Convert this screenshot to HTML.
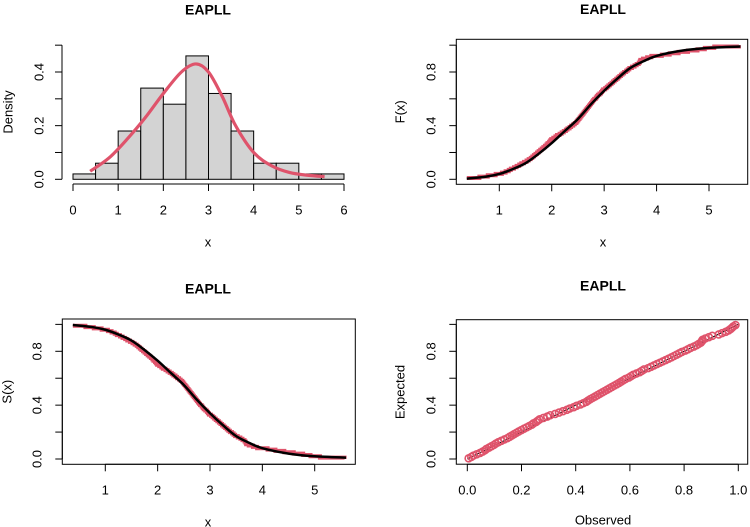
<!DOCTYPE html>
<html><head><meta charset="utf-8"><style>
body{margin:0;background:#fff}
svg{display:block;font-family:"Liberation Sans",sans-serif}
</style></head><body>
<svg id="c" width="750" height="527" viewBox="0 0 750 527"></svg>
<script>
const binEdges=[0,0.5,1,1.5,2,2.5,3,3.5,4,4.5,5,5.5,6];
const binDensity=[0.02,0.06,0.18,0.34,0.28,0.46,0.32,0.18,0.06,0.06,0.02,0.02];
const densX=[0.38,0.8,1.2,1.6,2.0,2.4,2.72,3.0,3.3,3.6,4.0,4.4,4.8,5.2,5.57];
const densY=[0.03,0.08,0.15,0.23,0.32,0.40,0.43,0.40,0.31,0.20,0.10,0.05,0.025,0.015,0.01];
const cdfX=[0.38,0.75,1.0,1.25,1.5,1.75,2.0,2.25,2.5,2.75,3.0,3.25,3.5,3.75,4.0,4.5,5.0,5.6];
const cdfY=[0.005,0.02,0.04,0.075,0.12,0.19,0.27,0.36,0.45,0.56,0.66,0.75,0.83,0.88,0.92,0.96,0.98,0.99];
const sample=[0.38,0.62,0.78,0.93,1.05,1.12,1.18,1.22,1.28,1.33,1.38,1.42,1.47,
1.52,1.56,1.6,1.63,1.66,1.69,1.72,1.75,1.78,1.81,1.84,1.87,1.9,1.92,1.95,1.97,1.99,
2.03,2.07,2.1,2.15,2.19,2.23,2.27,2.3,2.34,2.37,2.41,2.44,2.47,2.49,
2.51,2.53,2.55,2.57,2.59,2.61,2.63,2.65,2.67,2.69,2.71,2.73,2.75,2.77,2.79,2.81,2.84,2.86,2.88,2.91,2.94,2.96,2.98,
3.02,3.05,3.08,3.11,3.14,3.17,3.2,3.23,3.26,3.29,3.32,3.35,3.38,3.42,3.45,3.48,
3.53,3.58,3.62,3.66,3.68,3.69,3.74,3.82,3.9,4.1,4.25,4.42,4.6,4.78,4.92,5.1,5.57];
const histXTicks=[0,1,2,3,4,5,6];
const curveXTicks=[1,2,3,4,5];
const probTicks=[0,0.2,0.4,0.6,0.8,1.0];
const probLabels=["0.0","","0.4","","0.8",""];
const densTicks=[0,0.1,0.2,0.3,0.4,0.5];
const densLabels=["0.0","","0.2","","0.4",""];
const ppXTicks=[0,0.2,0.4,0.6,0.8,1.0];
const ppXLabels=["0.0","0.2","0.4","0.6","0.8","1.0"];

const NS="http://www.w3.org/2000/svg";
const svg=document.getElementById('c');
const RED="#DF536B";
function mk(t,a,p){const e=document.createElementNS(NS,t);for(const k in a)e.setAttribute(k,a[k]);(p||svg).appendChild(e);return e;}
function lin(d0,d1,r0,r1){return v=>r0+(v-d0)/(d1-d0)*(r1-r0);}
function smooth(pts){let d="M"+pts[0][0]+","+pts[0][1];for(let i=0;i<pts.length-1;i++){const p0=pts[i-1]||pts[i],p1=pts[i],p2=pts[i+1],p3=pts[i+2]||p2;
d+=" C"+(p1[0]+(p2[0]-p0[0])/6)+","+(p1[1]+(p2[1]-p0[1])/6)+" "+(p2[0]-(p3[0]-p1[0])/6)+","+(p2[1]-(p3[1]-p1[1])/6)+" "+p2[0]+","+p2[1];}return d;}
function interpCdf(x){if(x<=cdfX[0])return cdfY[0];for(let i=0;i<cdfX.length-1;i++){if(x<=cdfX[i+1]){const t=(x-cdfX[i])/(cdfX[i+1]-cdfX[i]);return cdfY[i]+t*(cdfY[i+1]-cdfY[i]);}}return cdfY[cdfY.length-1];}
function txt(x,y,s,opt){const a={x:x,y:y,'text-anchor':'middle','dominant-baseline':'middle','font-size':opt.fs||13,fill:'#000'};
if(opt.rot)a.transform=`rotate(-90 ${x} ${y})`;if(opt.bold)a['font-weight']='bold';const t=mk('text',a,opt.g);t.textContent=s;return t;}
function xAxis(g,xs,ticks,labels,y,from,to,ly){mk('line',{x1:xs(from),x2:xs(to),y1:y,y2:y,stroke:'#000'},g);
ticks.forEach((v,i)=>{mk('line',{x1:xs(v),x2:xs(v),y1:y,y2:y+7,stroke:'#000'},g);if(labels[i])txt(xs(v),ly,labels[i],{g:g});});}
function yAxis(g,ys,ticks,labels,x,from,to,lx){mk('line',{x1:x,x2:x,y1:ys(from),y2:ys(to),stroke:'#000'},g);
ticks.forEach((v,i)=>{mk('line',{x1:x,x2:x-7,y1:ys(v),y2:ys(v),stroke:'#000'},g);if(labels[i])txt(lx,ys(v),labels[i],{g:g,rot:1});});}
const n=sample.length;

// Panel 1 histogram
{const g=mk('g',{});
const xs=lin(0,6,73,344),ys=lin(0,0.4,179.3,72);
binDensity.forEach((d,i)=>{const r=mk('rect',{x:xs(binEdges[i]),y:ys(d),width:xs(binEdges[i+1])-xs(binEdges[i]),height:ys(0)-ys(d),fill:'#d3d3d3',stroke:'#000','stroke-width':1},g);
});
const p=mk('path',{d:smooth(densX.map((x,i)=>[xs(x),ys(densY[i])])),fill:'none',stroke:RED,'stroke-width':3.2},g);

xAxis(g,xs,histXTicks,histXTicks.map(String),184,0,6,211);
yAxis(g,ys,densTicks,densLabels,62,0,0.5,40);
txt(208,11,'EAPLL',{g:g,bold:1,fs:14});txt(208,243,'x',{g:g});txt(9,112,'Density',{g:g,rot:1});}

function cdfPanel(name,P,surv,ylab){
const g=mk('g',{});
const xs=lin(1,5,P.x1,P.x5),ys=lin(0,0.8,P.y0,P.y8);
const f=v=>surv?1-v:v;
let d="M"+xs(sample[0])+","+ys(f(1/n));
for(let i=1;i<n;i++){d+=" H"+xs(sample[i])+" V"+ys(f((i+1)/n));}
const e=mk('path',{d:d,fill:'none',stroke:RED,'stroke-width':4},g);

const c=mk('path',{d:smooth(cdfX.map((x,i)=>[xs(x),ys(f(cdfY[i]))])),fill:'none',stroke:'#000','stroke-width':2.5},g);

mk('rect',{x:P.L,y:P.T,width:P.R-P.L,height:P.B-P.T,fill:'none',stroke:'#000'},g);
xAxis(g,xs,curveXTicks,curveXTicks.map(String),P.B,1,5,P.B+27);
yAxis(g,ys,probTicks,probLabels,P.L,0,1,P.L-24);
const cx=(P.L+P.R)/2+5;
txt(P.tx,P.T-29,'EAPLL',{g:g,bold:1,fs:14});txt(P.tx,P.B+59,'x',{g:g});txt(P.ylx,(P.T+P.B)/2,ylab,{g:g,rot:1});}
cdfPanel('cdf-panel',{L:456.3,R:747.7,T:39.3,B:184.3,x1:499.3,x5:709,y0:179.3,y8:72,tx:603,ylx:401},false,'F(x)');
cdfPanel('survival-panel',{L:62.3,R:355.3,T:319,B:464.3,x1:105.3,x5:314.7,y0:459,y8:351.3,tx:208,ylx:8},true,'S(x)');

// PP panel
{const g=mk('g',{});
const xs=lin(0,1,467.3,738.3),ys=lin(0,0.8,459,351.3);
mk('line',{x1:xs(0),y1:ys(0),x2:xs(1),y2:ys(1),stroke:'#000','stroke-width':1},g);
sample.forEach((x,i)=>{const c=mk('circle',{cx:xs(interpCdf(x)),cy:ys((i+0.5)/n),r:3.5,fill:'none',stroke:RED,'stroke-width':1.6},g);
});
mk('rect',{x:456.3,y:319.7,width:291.4,height:144.5,fill:'none',stroke:'#000'},g);
xAxis(g,xs,ppXTicks,ppXLabels,464.2,0,1,491);
yAxis(g,ys,probTicks,probLabels,456.3,0,1,432);
txt(603,287,'EAPLL',{g:g,bold:1,fs:14});txt(603,521,'Observed',{g:g});txt(401,392,'Expected',{g:g,rot:1});}
</script>
</body></html>
